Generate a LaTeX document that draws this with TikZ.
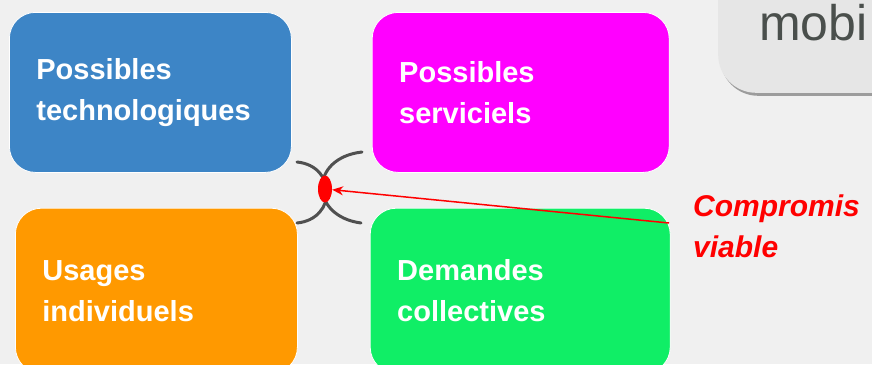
\documentclass[tikz,border=0pt]{standalone}
\usepackage{fontspec}
\setmainfont{Liberation Sans}
\usetikzlibrary{shapes.geometric, arrows.meta, positioning, shadows}
\definecolor{bgcol}{HTML}{F0F0F0}
\definecolor{techblue}{HTML}{3D85C6}
\definecolor{servmag}{HTML}{FF00FF}
\definecolor{usageorange}{HTML}{FF9900}
\definecolor{demgreen}{HTML}{10EE66}
\definecolor{arcgray}{HTML}{505050}
\definecolor{panelgray}{HTML}{E6E6E6}
\definecolor{panelink}{HTML}{4A4F4C}
\tikzstyle{block} = [rectangle, draw=white, line width=0.8pt, rounded corners=26pt, text=white, font=\fontsize{29}{41}\selectfont\bfseries, align=left, inner xsep=27pt, minimum height=160pt, anchor=north west]
\tikzstyle{arc} = [draw=arcgray, line width=3pt, line cap=round]
\tikzstyle{arrow} = [draw=red, line width=1.5pt, -{Stealth[length=11pt,width=9pt]}]
\tikzstyle{panel} = [rectangle, fill=panelgray, rounded corners=38pt, minimum width=200pt, minimum height=140pt, text width=118pt, inner xsep=41pt, align=left, text=panelink, font=\fontsize{50}{58}\selectfont, drop shadow={shadow xshift=2pt, shadow yshift=-3pt, fill=black, opacity=0.35}]
\tikzstyle{note} = [anchor=north west, inner sep=0pt, align=left, text=red, font=\fontsize{30}{41}\selectfont\bfseries\itshape]

\begin{document}
\begin{tikzpicture}[x=1pt, y=-1pt]
            \useasboundingbox (0,0) rectangle (872,364);
            \fill[bgcol] (0,0) rectangle (872,364);

            % Nodes
            \node[panel, anchor=south west] (mobi) at (718,93) {mobi};
            \node[block, fill=techblue, text width=228pt] (techno) at (9,12) {Possibles\\technologiques};
            \node[block, fill=servmag, text width=243pt, right=80pt of techno.north east, anchor=north west] (servic) {Possibles\\serviciels};
            \node[block, fill=usageorange, text width=228pt, minimum height=165pt, below=35pt of techno.south west, anchor=north west, xshift=6pt] (usages) {Usages\\individuels};
            \node[block, fill=demgreen, text width=246pt, minimum height=165pt, right=72pt of usages.north east, anchor=north west] (demandes) {Demandes\\collectives};
            \node[note] (compromis) at (693,195) {Compromis\\viable};

            % Arcs
            \coordinate (lt) at (297,162);
            \coordinate (lb) at (297,223);
            \coordinate (rt) at (362,152);
            \coordinate (rb) at (361,223);
            \draw[arc] (lt) .. controls (337,166) and (337,219) .. (lb);
            \draw[arc] (rt) .. controls (309,158) and (309,216) .. (rb);
            \node[ellipse, fill=red, minimum width=14pt, minimum height=27pt, inner sep=0pt] (pivot) at (325,189) {};

            % Edges
            \coordinate (tail) at (669,223);
            \draw[arrow] (tail) -- (pivot);
        \end{tikzpicture}
\end{document}
